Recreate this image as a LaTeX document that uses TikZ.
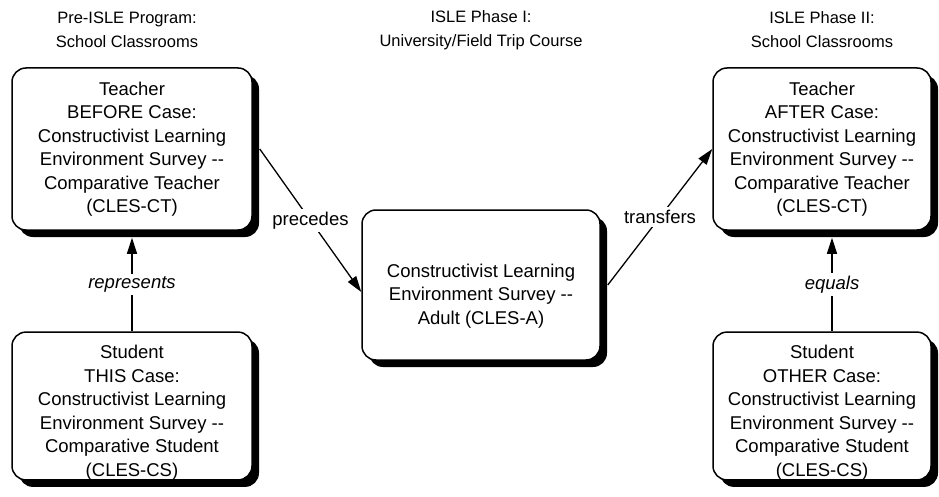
\documentclass[tikz,border=0pt]{standalone}
\usepackage{fontspec}
\setmainfont{Liberation Sans}
\usetikzlibrary{arrows.meta,shadows}

\tikzset{
  casebox/.style={draw,line width=1.5pt,rounded corners=14pt,fill=white,align=center,
    font=\fontsize{18.5}{23.5}\selectfont,inner sep=0pt,
    drop shadow={shadow xshift=7pt,shadow yshift=-7pt,fill=black,opacity=1}},
  link/.style={line width=1.3pt,-{Triangle[length=16pt,width=10pt]}},
  linklabel/.style={fill=white,inner sep=3pt,font=\fontsize{18.5}{22}\selectfont},
  phase/.style={align=center,font=\fontsize{16.5}{24}\selectfont}
}

\begin{document}
\begin{tikzpicture}[x=1pt,y=-1pt]
        \useasboundingbox (0,0) rectangle (939,497);

        % phase headings
        \node[phase] (hpre)  at (127,30) {Pre-ISLE Program:\\School Classrooms};
        \node[phase] (hone)  at (481,30) {ISLE Phase I:\\University/Field Trip Course};
        \node[phase] (htwo)  at (822,30) {ISLE Phase II:\\School Classrooms};

        % cases
        \node[casebox,minimum width=240pt,minimum height=162pt] (tbefore) at (132,149)
            {Teacher\\BEFORE Case:\\Constructivist Learning\\Environment Survey -{}-\\Comparative Teacher\\(CLES-CT)};
        \node[casebox,minimum width=240pt,minimum height=142pt,text height=144pt] (sthis) at (132,406)
            {Student\\THIS Case:\\Constructivist Learning\\Environment Survey -{}-\\Comparative Student\\(CLES-CS)};
        \node[casebox,minimum width=238pt,minimum height=150pt,text height=82pt] (cleadult) at (481,285)
            {Constructivist Learning\\Environment Survey -{}-\\Adult (CLES-A)};
        \node[casebox,minimum width=218pt,minimum height=162pt] (tafter) at (822,149)
            {Teacher\\AFTER Case:\\Constructivist Learning\\Environment Survey -{}-\\Comparative Teacher\\(CLES-CT)};
        \node[casebox,minimum width=218pt,minimum height=142pt,text height=144pt] (sother) at (822,406)
            {Student\\OTHER Case:\\Constructivist Learning\\Environment Survey -{}-\\Comparative Student\\(CLES-CS)};

        % links
        \draw[link] ([xshift=7pt]tbefore.east) -- node[linklabel] {precedes} ([yshift=-7pt]cleadult.west);
        \draw[link] ([xshift=7pt]cleadult.east) -- node[linklabel] {transfers} (tafter.west);
        \draw[link] (sthis.north) -- node[linklabel,font=\fontsize{18.5}{22}\selectfont\itshape] {represents} ([yshift=-7pt]tbefore.south);
        \draw[link] ([xshift=10pt]sother.north) -- node[linklabel,font=\fontsize{18.5}{22}\selectfont\itshape] {equals} ([xshift=10pt,yshift=-7pt]tafter.south);
\end{tikzpicture}
\end{document}
